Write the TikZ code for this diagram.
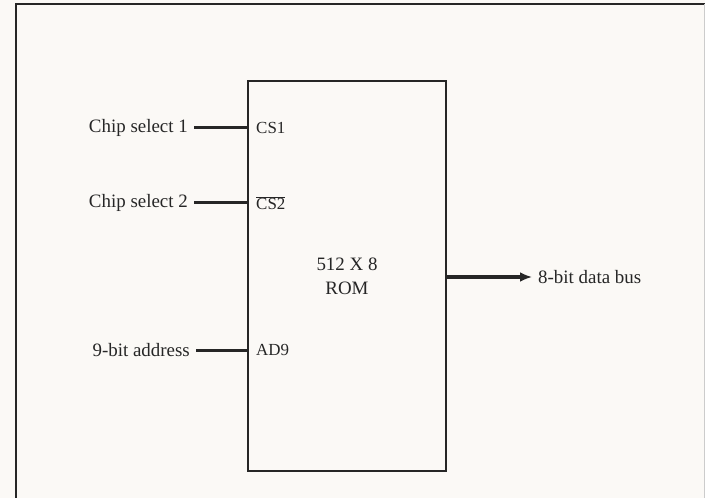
\documentclass[tikz,border=0pt]{standalone}
\usepackage{fontspec}
\setmainfont{Liberation Serif}
\usepackage{xcolor}
\usepackage{tikz}
\usetikzlibrary{positioning,arrows.meta}

\definecolor{paper}{HTML}{FBF9F6}
\definecolor{ink}{HTML}{262626}

\begin{document}
\begin{tikzpicture}[
    x=1bp, y=-1bp,
    every node/.style={
        text=ink,
        font=\fontsize{19}{24}\selectfont
    },
    inlabel/.style={anchor=east, inner sep=6bp},
    pinlabel/.style={anchor=west, inner sep=4bp, font=\fontsize{17}{20}\selectfont},
    pinline/.style={ink, line width=3bp},
    arrow/.style={-{Latex[length=12bp,width=10bp]}, ink, line width=4bp}
]

% page and frame
\fill[paper] (0,0) rectangle (705,498);
\useasboundingbox (0,0) rectangle (705,498);
\draw[ink, line width=1.5bp] (16,498) -- (16,4) -- (705,4);
\draw[gray!40, line width=1bp] (704,4) -- (704,498);

% the ROM block
\node (rom) [draw=ink, line width=1.8bp, minimum width=198bp, minimum height=390bp,
    align=center, inner sep=0pt] at (347,276) {512 X 8\\ROM};

% pins inside the block
\node (cs1) [pinlabel] at (252,128) {CS1};
\node (cs2) [pinlabel] at (252,203) {$\overline{\hbox{CS2}}$};
\node (ad9) [pinlabel] at (252,350) {AD9};

% inputs
\node (sel1) [inlabel] at (194,128) {Chip select 1};
\node (sel2) [inlabel] at (194,203) {Chip select 2};
\node (addr) [inlabel] at (196,350) {9-bit address};

% output
\node (dbus) [anchor=west, inner sep=6bp] at (532,277) {8-bit data bus};

\draw[pinline] (sel1.east) -- (sel1.east -| rom.west);
\draw[pinline] (sel2.east) -- (sel2.east -| rom.west);
\draw[pinline] (addr.east) -- (addr.east -| rom.west);
\draw[arrow] (dbus.west -| rom.east) -- (dbus.west);

\end{tikzpicture}
\end{document}
